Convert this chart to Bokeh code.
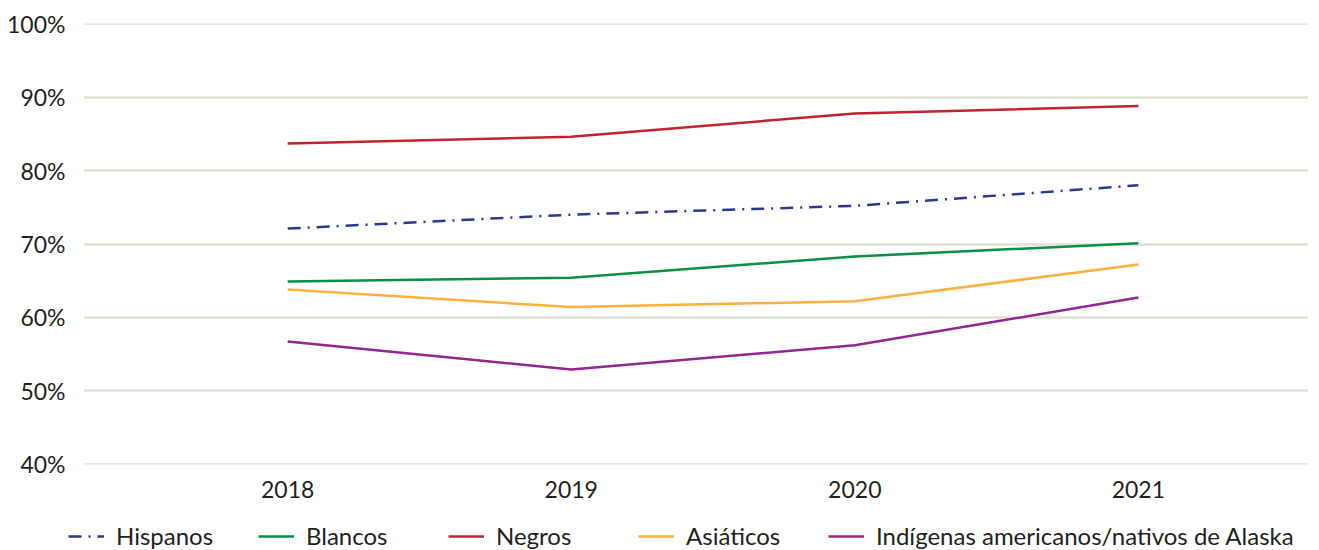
from bokeh.plotting import figure
from bokeh.models import Range1d, FixedTicker, PrintfTickFormatter, Legend, LegendItem
from bokeh.embed import file_html
from bokeh.resources import INLINE

years = [2018, 2019, 2020, 2021]
year_labels = ["2018", "2019", "2020", "2021"]
hispanos = [72.1, 74.0, 75.2, 78.0]
blancos = [64.9, 65.4, 68.3, 70.1]
negros = [83.7, 84.6, 87.8, 88.8]
asiaticos = [63.8, 61.4, 62.2, 67.2]
indigenas = [56.7, 52.9, 56.2, 62.7]
y_ticks = [40, 50, 60, 70, 80, 90, 100]

series = [
    ("Hispanos", hispanos, "#2b3990", "13 7 2 7"),
    ("Blancos", blancos, "#0b8f45", "solid"),
    ("Negros", negros, "#c1232f", "solid"),
    ("Asiáticos", asiaticos, "#fbb040", "solid"),
    ("Indígenas americanos/nativos de Alaska", indigenas, "#92278f", "solid"),
]

FONT = "Lato"
TXT = "#231f20"

p = figure(width=1311, height=508, output_backend="svg", toolbar_location=None,
           x_range=Range1d(2017.28, 2021.60), y_range=Range1d(39.95, 100.05),
           min_border_left=83, min_border_right=3, min_border_top=23,
           min_border_bottom=44)
p.outline_line_color = None
p.background_fill_color = "white"
p.border_fill_color = "white"

p.xgrid.grid_line_color = None
p.ygrid.grid_line_color = "#e4e1d4"
p.ygrid.grid_line_width = 2.5
p.ygrid.ticker = FixedTicker(ticks=y_ticks)

p.yaxis.ticker = FixedTicker(ticks=y_ticks)
p.yaxis.formatter = PrintfTickFormatter(format="%d%%")
p.yaxis.axis_line_color = None
p.yaxis.major_tick_line_color = None
p.yaxis.minor_tick_line_color = None
p.yaxis.major_label_standoff = 12
p.yaxis.major_label_text_font = FONT
p.yaxis.major_label_text_font_size = "23px"
p.yaxis.major_label_text_color = TXT

p.xaxis.ticker = FixedTicker(ticks=years)
p.xaxis.major_label_overrides = {y: l for y, l in zip(years, year_labels)}
p.xaxis.axis_line_color = None
p.xaxis.major_tick_line_color = None
p.xaxis.minor_tick_line_color = None
p.xaxis.major_label_standoff = 10
p.xaxis.major_label_text_font = FONT
p.xaxis.major_label_text_font_size = "23px"
p.xaxis.major_label_text_color = TXT

for name, vals, color, dash in series:
    p.line(years, vals, line_color=color, line_width=2.5, line_dash=dash)

# legend strip below the chart (its lines lie outside its visible range)
lf = figure(width=1311, height=42, output_backend="svg", toolbar_location=None,
            x_range=Range1d(0, 1), y_range=Range1d(0, 1),
            x_axis_location=None, y_axis_location=None,
            min_border=0, min_border_left=0, min_border_right=0,
            min_border_top=0, min_border_bottom=0)
lf.grid.visible = False
lf.outline_line_color = None
lf.border_fill_color = "white"
lf.background_fill_color = "white"

items = []
for name, vals, color, dash in series:
    r = lf.line(years, vals, line_color=color, line_width=2.5, line_dash=dash)
    items.append(LegendItem(label=name, renderers=[r]))

legend = Legend(items=items, orientation="horizontal", location=(68, 0),
                glyph_width=36, glyph_height=20, label_standoff=12,
                label_width=130, spacing=12, padding=0, margin=0,
                border_line_color=None, background_fill_alpha=0,
                label_text_font=FONT, label_text_font_size="24px",
                label_text_color=TXT)
lf.add_layout(legend)

open("out.html", "w").write(file_html([p, lf], INLINE))
